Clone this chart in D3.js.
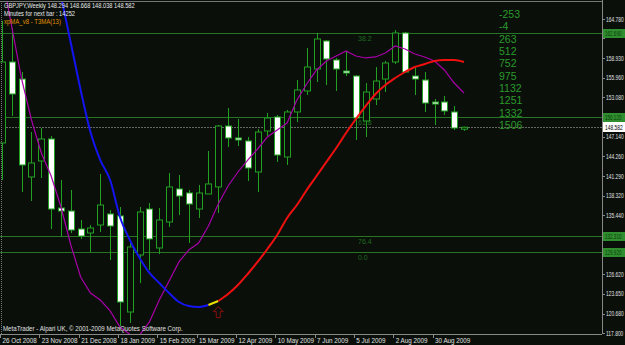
<!DOCTYPE html>
<html>
<head>
<meta charset="utf-8">
<script src="https://cdn.jsdelivr.net/npm/d3@7/dist/d3.min.js"></script>
<style>
  html, body { margin: 0; padding: 0; background: #0a0f0a; }
  svg { display: block; font-family: "Liberation Sans", Arial, sans-serif; }
</style>
</head>
<body>
<svg id="chart"></svg>
<script>
// weekly GBPJPY bars, index 0 = week of 26 Oct 2008
const opens = [146.23, 158.35, 155.80, 141.14, 143.54, 146.83, 136.50, 136.05, 133.36, 132.76,
  133.96, 135.61, 135.31, 120.94, 129.47, 136.35, 130.52, 134.41, 139.35, 138.75,
  136.35, 138.60, 139.65, 148.77, 146.98, 146.53, 141.89, 148.02, 150.12, 144.13,
  150.87, 154.01, 157.30, 161.49, 158.65, 157.00, 156.25, 149.52, 152.81, 155.80,
  158.35, 162.69, 156.25, 155.65, 152.36, 152.36, 150.87, 148.294];
const highs = [164.50, 163.43, 156.85, 147.87, 148.47, 147.28, 140.69, 139.20, 134.71, 133.96,
  141.59, 136.20, 136.65, 131.27, 136.65, 137.25, 136.50, 141.74, 141.44, 139.20,
  139.94, 145.03, 148.92, 151.46, 149.82, 147.13, 148.32, 150.72, 150.42, 151.17,
  155.65, 160.44, 162.69, 161.64, 158.95, 160.00, 156.40, 155.20, 157.60, 158.50,
  163.13, 162.84, 157.45, 156.85, 152.81, 153.26, 151.76, 148.668];
const lows = [140.70, 150.27, 138.90, 137.55, 140.99, 133.36, 132.20, 132.76, 131.87, 129.92,
  132.91, 128.72, 118.85, 119.30, 125.28, 127.23, 129.62, 133.66, 135.46, 131.27,
  135.01, 138.60, 135.76, 145.63, 145.78, 140.54, 138.90, 147.28, 143.39, 142.94,
  149.37, 153.41, 155.35, 154.90, 154.01, 156.25, 146.68, 147.13, 151.91, 153.86,
  158.05, 156.70, 153.41, 150.87, 148.92, 150.42, 148.17, 148.038];
const closes = [158.35, 153.56, 142.94, 143.24, 146.83, 136.35, 136.05, 133.21, 132.31, 133.51,
  136.95, 133.81, 122.44, 130.67, 135.91, 131.87, 134.71, 139.65, 138.30, 137.10,
  138.75, 140.10, 148.77, 146.98, 146.68, 142.49, 147.87, 149.97, 144.43, 150.87,
  154.16, 157.60, 161.79, 158.80, 157.30, 156.70, 149.97, 153.86, 155.50, 158.20,
  162.69, 156.85, 155.80, 152.21, 152.06, 151.02, 148.47, 148.582];

// magenta moving average, one value per bar
const maValues = [171.36, 163.58, 155.80, 149.67, 144.73, 141.29, 136.65, 130.97, 126.18, 123.79,
  122.74, 121.10, 118.70, 117.60, 117.50, 119.45, 122.74, 125.58, 128.43, 130.22,
  131.27, 133.81, 137.10, 139.80, 141.89, 143.68, 145.33, 147.13, 148.17, 149.22,
  152.66, 155.06, 157.15, 158.50, 159.24, 160.00, 159.24, 158.95, 159.10, 159.69,
  160.74, 160.29, 159.54, 159.10, 158.50, 157.15, 155.20, 153.71];

// T3MA(13), starts at bar 3; falling part blue, turn yellow, rising part red
const t3Start = 3;
const t3Values = [188.87, 181.99, 175.10, 168.22, 161.19, 154.16, 147.87, 143.68, 140.69, 135.16,
  131.72, 129.02, 126.78, 125.28, 123.79, 122.44, 121.84, 121.69, 121.99, 122.59,
  123.64, 124.98, 126.63, 128.43, 130.37, 132.46, 135.01, 136.95, 139.20, 141.29,
  143.39, 145.48, 147.72, 149.82, 151.76, 153.56, 154.91, 155.95, 156.85, 157.60,
  158.05, 158.50, 158.65, 158.65, 158.35];
const t3TurnFrom = 21, t3TurnTo = 22;
const arrowBar = 22, arrowPrice = 121.0;

const dateTickBars = [0, 4, 8, 12, 16, 20, 24, 28, 32, 36, 40, 44];
const dateTickLabels = ["26 Oct 2008", "23 Nov 2008", "21 Dec 2008", "18 Jan 2009", "15 Feb 2009",
  "15 Mar 2009", "12 Apr 2009", "10 May 2009", "7 Jun 2009", "5 Jul 2009", "2 Aug 2009", "30 Aug 2009"];

const priceTicks = [164.780, 161.900, 158.930, 155.960, 153.080, 150.110, 147.140, 144.260,
  141.290, 138.320, 135.440, 132.470, 129.500, 126.620, 123.650, 120.680, 117.800];

const levelPrices = [162.69, 150.12, 132.31, 129.92];
const levelNames = ["38.2", "61.8", "76.4", "0.0"];

const counterValues = ["-253", "-4", "263", "512", "752", "975", "1132", "1251", "1332", "1506"];

const bidPrice = 148.582;
const header = ["GBPJPY,Weekly  148.294 148.668 148.038 148.582", "Minutes for next bar : 14252"];
const indicatorName = "xpMA_v8 - T3MA(13)";

const W = 625, H = 345;
const plotRight = 602, plotBottom = 334, plotTop = 1;
const green = "#22a022", lineGreen = "#257525";

const svg = d3.select("#chart").attr("width", W).attr("height", H);
svg.append("rect").attr("width", W).attr("height", H).attr("fill", "#0a0f0a");

// squeeze small texts to the narrow terminal font width
function squeeze(sel, k) {
  sel.each(function () {
    const w = this.getComputedTextLength();
    d3.select(this).attr("textLength", w * k).attr("lengthAdjust", "spacingAndGlyphs");
  });
}

const x = d3.scaleLinear().domain([0, 47]).range([2, 464]);
const y = d3.scaleLinear().domain([117.8, 164.78]).range([333, 19]);

svg.append("clipPath").attr("id", "plot")
  .append("rect").attr("x", 0).attr("y", plotTop).attr("width", plotRight).attr("height", plotBottom - plotTop);

const plot = svg.append("g").attr("clip-path", "url(#plot)");

// level lines
plot.selectAll(".lvl").data(levelPrices).enter().append("line")
  .attr("x1", 0).attr("x2", plotRight)
  .attr("y1", (d) => Math.round(y(d)) + 0.5).attr("y2", (d) => Math.round(y(d)) + 0.5)
  .attr("stroke", lineGreen);

plot.selectAll(".lvlname").data(levelPrices).enter().append("text")
  .attr("x", 358).attr("y", (d) => y(d) + 8)
  .text((d, i) => levelNames[i])
  .attr("fill", "#1f6a1f").style("font-size", "7px");

// bid line
plot.append("line")
  .attr("x1", 0).attr("x2", plotRight)
  .attr("y1", Math.round(y(bidPrice)) + 0.5).attr("y2", Math.round(y(bidPrice)) + 0.5)
  .attr("stroke", "#666").attr("stroke-dasharray", "2,1");

// candles
const bars = d3.range(opens.length);
const g = plot.append("g");
g.selectAll(".wick").data(bars).enter().append("line")
  .attr("x1", (i) => Math.round(x(i)) + 0.5).attr("x2", (i) => Math.round(x(i)) + 0.5)
  .attr("y1", (i) => y(highs[i])).attr("y2", (i) => y(lows[i]))
  .attr("stroke", green);

g.selectAll(".body").data(bars).enter().append("rect")
  .attr("x", (i) => Math.round(x(i)) - 2.5)
  .attr("width", 6)
  .attr("y", (i) => y(Math.max(opens[i], closes[i])))
  .attr("height", (i) => Math.max(1, Math.abs(y(opens[i]) - y(closes[i]))))
  .attr("fill", (i) => (closes[i] < opens[i] ? "#ffffff" : "#0a0f0a"))
  .attr("stroke", green);

// magenta MA
plot.append("path")
  .datum(maValues)
  .attr("d", d3.line().x((d, i) => x(i)).y((d) => y(d)))
  .attr("fill", "none").attr("stroke", "#a800a8").attr("stroke-width", 1.2);

// T3MA segments
const t3 = t3Values.map((v, k) => ({ i: k + t3Start, v }));
const t3Line = d3.line().x((d) => x(d.i)).y((d) => y(d.v)).curve(d3.curveMonotoneX);
const segs = [
  { pts: t3.filter((d) => d.i <= t3TurnFrom), color: "#1414f0" },
  { pts: t3.filter((d) => d.i >= t3TurnFrom && d.i <= t3TurnTo), color: "#e8e000" },
  { pts: t3.filter((d) => d.i >= t3TurnTo), color: "#f01010" },
];
plot.selectAll(".t3").data(segs).enter().append("path")
  .attr("d", (s) => t3Line(s.pts))
  .attr("fill", "none").attr("stroke", (s) => s.color).attr("stroke-width", 2);

// up arrow under the turn
plot.append("path")
  .attr("transform", `translate(${x(arrowBar)},${y(arrowPrice)})`)
  .attr("d", "M0,-5 L5,0 L2,0 L2,6 L-2,6 L-2,0 L-5,0 Z")
  .attr("fill", "none").attr("stroke", "#8a1010").attr("stroke-width", 1);

// counter numbers
const cy = d3.scaleLinear().domain([0, counterValues.length - 1]).range([18, 129]);
svg.selectAll(".cnt").data(counterValues).enter().append("text")
  .attr("x", 499).attr("y", (d, i) => cy(i))
  .text((d) => d)
  .attr("fill", "#2a9a2a").style("font-size", "10.5px");

// frame
svg.append("line").attr("x1", plotRight + 0.5).attr("x2", plotRight + 0.5).attr("y1", 0).attr("y2", plotBottom)
  .attr("stroke", "#888");
svg.append("line").attr("x1", 0).attr("x2", plotRight).attr("y1", plotBottom + 0.5).attr("y2", plotBottom + 0.5)
  .attr("stroke", "#888");
svg.append("line").attr("x1", 0).attr("x2", plotRight).attr("y1", plotTop + 0.5).attr("y2", plotTop + 0.5)
  .attr("stroke", "#777");
svg.append("line").attr("x1", 1.5).attr("x2", 1.5).attr("y1", plotTop).attr("y2", plotBottom)
  .attr("stroke", "#777").attr("stroke-dasharray", "1,1");

// price axis: labels narrowed with a horizontal scale so they fit the margin
const hidden = levelPrices.concat([bidPrice]);
const visibleTicks = priceTicks.filter((t) => !hidden.some((h) => Math.abs(y(h) - y(t)) < 7));
const ax = svg.append("g");
const narrow = (px, py) => `translate(${px},${py}) scale(0.7,1)`;

ax.selectAll(".pt").data(priceTicks).enter().append("line")
  .attr("x1", plotRight).attr("x2", plotRight + 3)
  .attr("y1", (d) => Math.round(y(d)) + 0.5).attr("y2", (d) => Math.round(y(d)) + 0.5)
  .attr("stroke", "#888");
ax.selectAll(".pl").data(visibleTicks).enter().append("text")
  .attr("transform", (d) => narrow(plotRight + 4, y(d) + 2.5))
  .text((d) => d.toFixed(3))
  .attr("fill", "#e0e0e0").style("font-size", "7px");

// level price boxes
levelPrices.forEach((p) => {
  ax.append("rect").attr("x", plotRight + 1).attr("y", Math.round(y(p)) - 4)
    .attr("width", W - plotRight - 1).attr("height", 9).attr("fill", "#2f8f2f");
  ax.append("text").attr("transform", narrow(plotRight + 3, y(p) + 3))
    .text(p.toFixed(3)).attr("fill", "#0c3a0c").style("font-size", "6.5px");
});

// bid box
ax.append("rect").attr("x", plotRight + 1).attr("y", Math.round(y(bidPrice)) - 5)
  .attr("width", W - plotRight - 1).attr("height", 10).attr("fill", "#ffffff");
ax.append("text").attr("transform", narrow(plotRight + 3, y(bidPrice) + 3))
  .text(bidPrice.toFixed(3)).attr("fill", "#000").style("font-size", "7px");

// time axis
ax.selectAll(".dt").data(dateTickBars).enter().append("line")
  .attr("x1", (i) => Math.round(x(i)) - 1.5).attr("x2", (i) => Math.round(x(i)) - 1.5)
  .attr("y1", plotBottom).attr("y2", plotBottom + 4)
  .attr("stroke", "#888");
ax.selectAll(".dl").data(dateTickBars).enter().append("text")
  .attr("x", (i) => x(i) + 0.5).attr("y", 343)
  .text((d, k) => dateTickLabels[k])
  .attr("fill", "#e0e0e0").style("font-size", "6.3px");

// header and footer texts
svg.selectAll(".hd").data(header).enter().append("text")
  .attr("x", 4).attr("y", (d, i) => 8 + i * 8)
  .text((d) => d).attr("fill", "#e8e8e8").style("font-size", "7.5px")
  .call(squeeze, 0.76);
svg.append("text").attr("x", 4).attr("y", 24).text(indicatorName)
  .attr("fill", "#e09000").style("font-size", "7.5px")
  .call(squeeze, 0.8);
svg.append("text").attr("x", 3).attr("y", 331)
  .text("MetaTrader - Alpari UK, \u00a9 2001-2009 MetaQuotes Software Corp.")
  .attr("fill", "#e0e0e0").style("font-size", "7.5px")
  .call(squeeze, 0.82);
</script>
</body>
</html>
